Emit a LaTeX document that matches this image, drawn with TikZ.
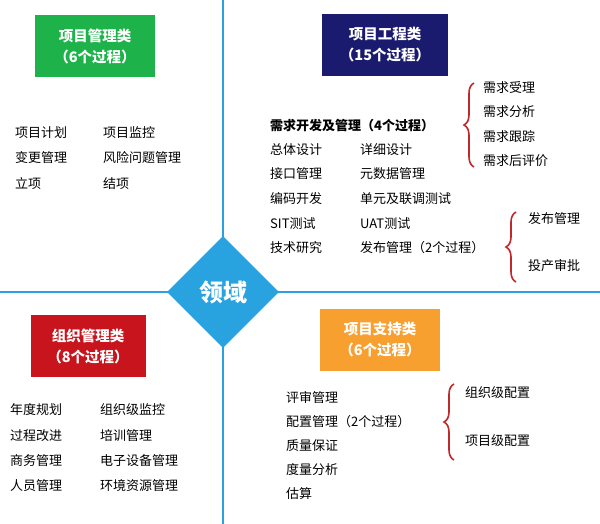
\documentclass[tikz,border=0pt]{standalone}
\usepackage{fontspec}
\setmainfont{Noto Sans CJK SC}
\usetikzlibrary{shapes.geometric,decorations.pathreplacing}
\definecolor{axis}{HTML}{29A3DF}
\definecolor{gbox}{HTML}{1EB34A}
\definecolor{nbox}{HTML}{1A1A6E}
\definecolor{rbox}{HTML}{C8141C}
\definecolor{obox}{HTML}{F7A030}
\definecolor{brc}{HTML}{C0282C}
\tikzset{
  hdr/.style={minimum width=#1, minimum height=62pt, text=white, font=\bfseries\fontsize{14.5}{21}\selectfont, align=center, inner sep=0pt},
  it/.style={anchor=west, font=\fontsize{13}{14}\selectfont, inner sep=0pt},
  br/.style={draw=brc, line width=1.6pt, decorate, decoration={brace, amplitude=10pt}}
}
\begin{document}
\begin{tikzpicture}[x=1pt,y=-1pt]
\useasboundingbox (0,0) rectangle (600,524);
\fill[white] (0,0) rectangle (600,524);
\draw[axis, line width=2.5pt] (223,0) -- (223,524);
\draw[axis, line width=2.5pt] (0,292) -- (600,292);
\node[diamond, fill=axis, minimum width=112pt, minimum height=112pt, inner sep=0pt, text=white, font=\bfseries\fontsize{24}{26}\selectfont] (d) at (223,292) {领域};

\node[hdr=120pt, fill=gbox] (g) at (95,46) {项目管理类\\（6个过程）};
\node[hdr=126pt, fill=nbox] (n) at (385,45) {项目工程类\\（15个过程）};
\node[hdr=115pt, fill=rbox] (r) at (88,346) {组织管理类\\（8个过程）};
\node[hdr=120pt, fill=obox] (o) at (380,340) {项目支持类\\（6个过程）};

% top left
\node[it] (a1) at (15,133) {项目计划};
\node[it] (a2) at (103,133) {项目监控};
\node[it] (a3) at (15,158) {变更管理};
\node[it] (a4) at (103,158) {风险问题管理};
\node[it] (a5) at (15,184) {立项};
\node[it] (a6) at (103,184) {结项};

% top right
\node[it, font=\bfseries\fontsize{13}{14}\selectfont] (b0) at (270,126) {需求开发及管理（4个过程）};
\node[it] (b1) at (270,150) {总体设计};
\node[it] (b2) at (360,150) {详细设计};
\node[it] (b3) at (270,174) {接口管理};
\node[it] (b4) at (360,174) {元数据管理};
\node[it] (b5) at (270,199) {编码开发};
\node[it] (b6) at (360,199) {单元及联调测试};
\node[it] (b7) at (270,224) {SIT测试};
\node[it] (b8) at (360,224) {UAT测试};
\node[it] (b9) at (270,248) {技术研究};
\node[it] (b10) at (360,248) {发布管理（2个过程）};
\coordinate (br1t) at (474,83);
\coordinate (br1b) at (474,167);
\draw[br] (br1b) -- (br1t);
\node[it] (c1) at (483,88) {需求受理};
\node[it] (c2) at (483,112) {需求分析};
\node[it] (c3) at (483,137) {需求跟踪};
\node[it] (c4) at (483,161) {需求后评价};
\coordinate (br2t) at (516,212);
\coordinate (br2b) at (516,282);
\draw[br] (br2b) -- (br2t);
\node[it] (c5) at (528,219) {发布管理};
\node[it] (c6) at (528,266) {投产审批};

% bottom left
\node[it] (e1) at (10,410) {年度规划};
\node[it] (e2) at (100,410) {组织级监控};
\node[it] (e3) at (10,436) {过程改进};
\node[it] (e4) at (100,436) {培训管理};
\node[it] (e5) at (10,461) {商务管理};
\node[it] (e6) at (100,461) {电子设备管理};
\node[it] (e7) at (10,486) {人员管理};
\node[it] (e8) at (100,486) {环境资源管理};

% bottom right
\node[it] (f1) at (286,398) {评审管理};
\node[it] (f2) at (286,422) {配置管理（2个过程）};
\node[it] (f3) at (286,446) {质量保证};
\node[it] (f4) at (286,470) {度量分析};
\node[it] (f5) at (286,494) {估算};
\coordinate (br3t) at (454,384);
\coordinate (br3b) at (454,460);
\draw[br] (br3b) -- (br3t);
\node[it] (g1) at (465,393) {组织级配置};
\node[it] (g2) at (465,441) {项目级配置};
\end{tikzpicture}
\end{document}
